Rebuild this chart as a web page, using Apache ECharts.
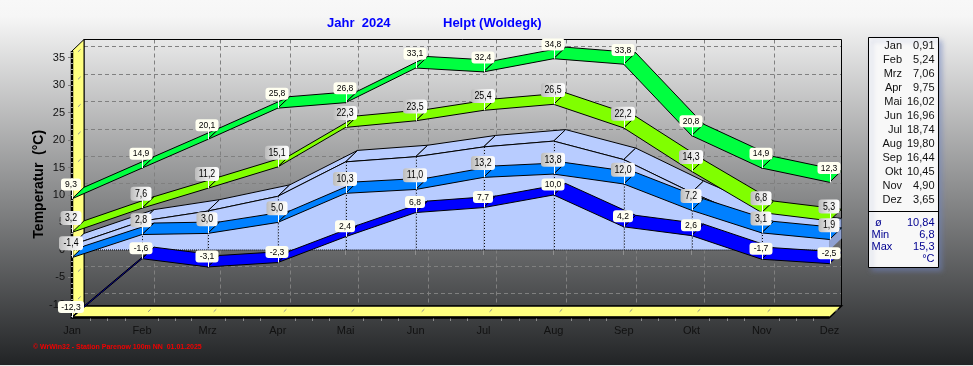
<!DOCTYPE html>
<html>
<head>
<meta charset="utf-8">
<style>html,body{margin:0;padding:0;background:#eee;overflow:hidden}#c{width:973px;height:366px}</style>
<script src="https://cdn.jsdelivr.net/npm/echarts@6/dist/echarts.min.js"></script>
</head>
<body>
<div id="c"></div>
<script>
const months = ['Jan','Feb','Mrz','Apr','Mai','Jun','Jul','Aug','Sep','Okt','Nov','Dez'];
const monthDays = [0,31,60,91,121,152,182,213,244,274,305,335];
const yTicks = [-10,-5,0,5,10,15,20,25,30,35];
const tempMaxAbs = [9.3,14.9,20.1,25.8,26.8,33.1,32.4,34.8,33.8,20.8,14.9,12.3];
const tempMaxMean = [3.2,7.6,11.2,15.1,22.3,23.5,25.4,26.5,22.2,14.3,6.8,5.3];
const tempMinMean = [-1.4,2.8,3.0,5.0,10.3,11.0,13.2,13.8,12.0,7.2,3.1,1.9];
const tempMinAbs = [-12.3,-1.6,-3.1,-2.3,2.4,6.8,7.7,10.0,4.2,2.6,-1.7,-2.5];
const monthlyMean = [0.91,5.24,7.06,9.75,16.02,16.96,18.74,19.80,16.44,10.45,4.90,3.65];
const summaryLabels = ['ø','Min','Max'];
const summaryValues = ['10,84','6,8','15,3'];

const DX = 12, DY = -11.5;
const Y_MIN = -12.3, Y_MAX = 36.2, X_MAX = 335;
const comma = (v, d) => v.toFixed(d).replace('.', ',');
const rows = arr => arr.map((v, i) => [monthDays[i], v]);
const line = (x1, y1, x2, y2, stroke, lineWidth, dash) => ({
  type: 'line', silent: true,
  shape: {x1, y1, x2, y2},
  style: {stroke, lineWidth: lineWidth || 1, lineDash: dash || null}
});
const poly = (points, fill, stroke, lineWidth) => ({
  type: 'polygon', silent: true,
  shape: {points},
  style: {fill, stroke: stroke || null, lineWidth: lineWidth || 1}
});

function renderWalls(params, api) {
  if (params.dataIndex !== 0) return null;
  const tl = api.coord([0, Y_MAX]), bl = api.coord([0, Y_MIN]), br = api.coord([X_MAX, Y_MIN]);
  const kids = [];
  yTicks.forEach(v => {
    const p = api.coord([0, v]);
    kids.push(line(p[0] + DX, Math.round(p[1] + DY) + .5, br[0] + DX, Math.round(p[1] + DY) + .5, '#808080', 1, [4, 3]));
  });
  monthDays.slice(1, -1).forEach(d => {
    const p = api.coord([d, 0]);
    kids.push(line(Math.round(p[0] + DX) + .5, tl[1] + DY, Math.round(p[0] + DX) + .5, bl[1] + DY, '#808080', 1, [4, 3]));
  });
  kids.push(poly([[tl[0] + DX, tl[1] + DY], [br[0] + DX, tl[1] + DY], [br[0] + DX, bl[1] + DY], [bl[0] + DX, bl[1] + DY]], 'rgba(0,0,0,0)', '#000', 1));
  kids.push(poly([[tl[0], tl[1]], [tl[0] + DX, tl[1] + DY], [bl[0] + DX, bl[1] + DY], [bl[0], bl[1]]], '#ffff80', '#000', 1));
  kids.push(poly([[bl[0], bl[1]], [bl[0] + DX, bl[1] + DY], [br[0] + DX, br[1] + DY], [br[0], br[1]]], '#ffff80', '#000', 1.5));
  kids.push(line(tl[0], tl[1], bl[0], bl[1] + 1, '#000', 2.5));
  kids.push(line(bl[0], bl[1], br[0], br[1], '#000', 2.5));
  yTicks.forEach(v => {
    const p = api.coord([0, v]);
    kids.push(line(p[0] + DX * .5, p[1] + DY * .5, p[0] + DX * .72, p[1] + DY * .72, '#909090', 1));
  });
  monthDays.forEach(d => {
    const p = api.coord([d, Y_MIN]);
    kids.push(line(p[0] + DX * .5, p[1] + DY * .5, p[0] + DX * .72, p[1] + DY * .72, '#909090', 1));
  });
  for (let v = -12; v <= 36; v++) {
    const p = api.coord([0, v]);
    kids.push(line(p[0] - 1, Math.round(p[1]) + .5, p[0] + 1, Math.round(p[1]) + .5, '#aaaaaa', 1));
  }
  monthDays.slice(0, -1).forEach((d, i) => {
    const step = (monthDays[i + 1] - d) / 4;
    for (let k = 1; k < 4; k++) {
      const p = api.coord([d + step * k, Y_MIN]);
      kids.push(line(Math.round(p[0]) + .5, p[1] + 1, Math.round(p[0]) + .5, p[1] + 3.5, '#909090', 1));
    }
  });
  return {type: 'group', children: kids};
}

function renderArea(params, api) {
  const i = params.dataIndex;
  const x = api.value(0), v = api.value(1);
  const a = api.coord([x, v]), z = api.coord([x, 0]);
  const kids = [];
  if (i < monthDays.length - 1) {
    const x2 = monthDays[i + 1], v2 = monthlyMean[i + 1];
    const b = api.coord([x2, v2]), w = api.coord([x2, 0]);
    kids.push(poly([a, b, [b[0] + DX, b[1] + DY], [a[0] + DX, a[1] + DY]], '#b8ccff', '#000', 1));
    kids.push(poly([a, b, w, z], '#b8ccff'));
    kids.push(line(a[0], a[1], b[0], b[1], '#000', 1));
    kids.push(line(z[0], z[1], w[0], w[1], '#000', 1, [1, 1]));
  } else {
    kids.push(poly([a, [a[0] + DX, a[1] + DY], [z[0] + DX, z[1] + DY], z], '#8fa2d2'));
  }
  if (i > 0 && i < monthDays.length - 1) {
    kids.push(line(Math.round(a[0]) + .5, a[1], Math.round(a[0]) + .5, z[1], '#000', 1, [1, 2]));
  }
  return {type: 'group', children: kids};
}

function ribbonRenderer(values, fill) {
  return function (params, api) {
    const i = params.dataIndex;
    if (i >= values.length - 1) return null;
    const a = api.coord([api.value(0), api.value(1)]);
    const b = api.coord([monthDays[i + 1], values[i + 1]]);
    return poly([a, b, [b[0] + DX, b[1] + DY], [a[0] + DX, a[1] + DY]], fill, '#000', 1);
  };
}

function tagRenderer(kind) {
  return function (params, api) {
    const v = api.value(1);
    const p = api.coord([api.value(0), v]);
    const text = comma(v, 1);
    const small = kind === 'cream';
    const w = (small ? 11 : 12) + 3 * text.length;
    const h = small ? 12 : 14;
    const off = params.seriesName === 'minAbsTag' ? 10.5 : 14.3;
    const cx = Math.round(p[0]) - 1, cy = p[1] - off;
    const fill = small
      ? '#fffff0'
      : {type: 'linear', x: 0, y: 0, x2: 1, y2: 0, colorStops: [{offset: 0, color: '#bcbcbc'}, {offset: .45, color: '#e4e4e4'}, {offset: 1, color: '#ffffff'}]};
    return {type: 'group', children: [
      line(cx + 1.5, cy, cx + 1.5, p[1], '#fff', 1),
      {type: 'rect', silent: true, shape: {x: cx - w / 2, y: cy - h / 2, width: w, height: h, r: 3}, style: {fill}},
      {type: 'text', silent: true, x: cx, y: cy, scaleX: small ? .9 : .8,
        style: {text, fill: '#000', align: 'center', verticalAlign: 'middle', font: (small ? '9.5px' : '11px') + ' "Liberation Sans", Arial, sans-serif'}}
    ]};
  };
}

const custom = (name, data, renderItem, z) => ({type: 'custom', name, data, renderItem, z, silent: true, animation: false, clip: false, encode: {x: 0, y: 1}});

const legendX = 868.5, legendY = 37.5, legendW = 70, legendH = 230;
const legendFont = '11px "Liberation Sans", Arial, sans-serif';
const graphics = [
  {type: 'rect', silent: true, z: 100, shape: {x: legendX, y: legendY, width: legendW, height: legendH},
    style: {fill: '#f8f8f8', stroke: '#000', lineWidth: 1, shadowBlur: 5, shadowOffsetX: 3, shadowOffsetY: 3, shadowColor: 'rgba(110,130,190,.55)'}},
  {type: 'line', silent: true, z: 101, shape: {x1: legendX, y1: 211.5, x2: legendX + legendW, y2: 211.5}, style: {stroke: '#000', lineWidth: 1}},
  {type: 'text', silent: true, z: 101, x: 33, y: 347, style: {text: '© WrWin32 - Station Parenow 100m NN  01.01.2025', fill: '#f00000', align: 'left', verticalAlign: 'middle', font: 'bold 7px "Liberation Sans", sans-serif'}}
];
months.forEach((m, i) => {
  const y = 46 + i * 14;
  graphics.push({type: 'text', silent: true, z: 101, x: 902, y, style: {text: m, fill: '#111', align: 'right', verticalAlign: 'middle', font: legendFont}});
  graphics.push({type: 'text', silent: true, z: 101, x: 934.5, y, style: {text: comma(monthlyMean[i], 2), fill: '#111', align: 'right', verticalAlign: 'middle', font: legendFont}});
});
summaryLabels.forEach((t, i) => {
  const y = 223 + i * 12;
  graphics.push({type: 'text', silent: true, z: 101, x: i === 0 ? 875 : 871.5, y, style: {text: t, fill: '#000090', align: 'left', verticalAlign: 'middle', font: legendFont}});
  graphics.push({type: 'text', silent: true, z: 101, x: 934.5, y, style: {text: summaryValues[i], fill: '#000090', align: 'right', verticalAlign: 'middle', font: legendFont}});
});
graphics.push({type: 'text', silent: true, z: 101, x: 934.5, y: 259, style: {text: '°C', fill: '#000090', align: 'right', verticalAlign: 'middle', font: legendFont}});

const chart = echarts.init(document.getElementById('c'), null, {renderer: 'canvas'});
chart.setOption({
  animation: false,
  backgroundColor: {type: 'linear', x: 0, y: 0, x2: 0, y2: 1, colorStops: [
    {offset: 0, color: '#f8f8f8'}, {offset: .045, color: '#f6f6f6'}, {offset: .996, color: '#222426'}, {offset: .997, color: '#e4e4e4'}, {offset: 1, color: '#e4e4e4'}
  ]},
  title: [
    {text: 'Jahr  2024', left: 327, top: 17, padding: 0, textStyle: {color: '#0000ff', fontWeight: 'bold', fontSize: 13, fontFamily: '"Liberation Sans", Arial, sans-serif'}},
    {text: 'Helpt (Woldegk)', left: 443, top: 17, padding: 0, textStyle: {color: '#0000ff', fontWeight: 'bold', fontSize: 13, fontFamily: '"Liberation Sans", Arial, sans-serif'}}
  ],
  grid: {left: 72, right: 143.5, top: 51, bottom: 48.5, containLabel: false},
  xAxis: {
    type: 'value', min: 0, max: X_MAX, splitLine: {show: false},
    axisLine: {show: false},
    axisTick: {show: true, length: 5, customValues: monthDays, lineStyle: {color: '#909090'}},
    axisLabel: {show: true, customValues: monthDays, margin: 8, color: '#111', fontSize: 11, fontFamily: '"Liberation Sans", Arial, sans-serif',
      formatter: v => months[monthDays.indexOf(v)]}
  },
  yAxis: {
    type: 'value', min: Y_MIN, max: Y_MAX, splitLine: {show: false},
    name: 'Temperatur  (°C)', nameLocation: 'middle', nameGap: 26, nameMoveOverlap: false,
    nameTextStyle: {color: '#000', fontWeight: 'bold', fontSize: 14, fontFamily: '"Liberation Sans", Arial, sans-serif'},
    axisLine: {show: false},
    axisTick: {show: true, length: 4, customValues: yTicks, lineStyle: {color: '#808080'}},
    axisLabel: {show: true, customValues: yTicks, margin: 7, color: '#111', fontSize: 11, fontFamily: '"Liberation Sans", Arial, sans-serif'}
  },
  series: [
    custom('walls', rows(monthlyMean), renderWalls, 2),
    custom('Mittel', rows(monthlyMean), renderArea, 3),
    custom('Max absolut', rows(tempMaxAbs), ribbonRenderer(tempMaxAbs, '#00ff40'), 4),
    custom('Max Mittel', rows(tempMaxMean), ribbonRenderer(tempMaxMean, '#80ff00'), 5),
    custom('Min Mittel', rows(tempMinMean), ribbonRenderer(tempMinMean, '#0080ff'), 6),
    custom('Min absolut', rows(tempMinAbs), ribbonRenderer(tempMinAbs, '#0000ff'), 7),
    custom('maxAbsTag', rows(tempMaxAbs), tagRenderer('cream'), 10),
    custom('maxMeanTag', rows(tempMaxMean), tagRenderer('gray'), 10),
    custom('minMeanTag', rows(tempMinMean), tagRenderer('gray'), 10),
    custom('minAbsTag', rows(tempMinAbs), tagRenderer('cream'), 10)
  ],
  graphic: graphics
});
</script>
</body>
</html>
